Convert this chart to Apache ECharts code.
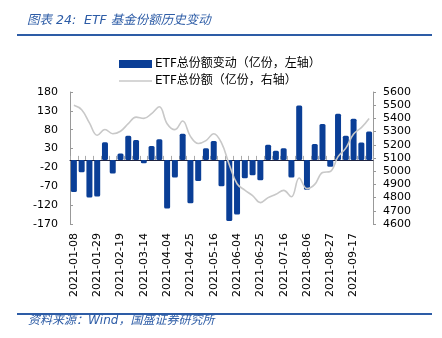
<!DOCTYPE html>
<html>
<head>
<meta charset="utf-8">
<script src="https://cdn.jsdelivr.net/npm/echarts@6/dist/echarts.min.js"></script>
<style>html,body{margin:0;padding:0;background:#fff;}#c{width:442px;height:338px;}</style>
</head>
<body>
<div id="c"></div>
<script>
var categories = ["2021-01-08","2021-01-15","2021-01-22","2021-01-29","2021-02-05","2021-02-10","2021-02-19","2021-02-26","2021-03-05","2021-03-14","2021-03-19","2021-03-26","2021-04-04","2021-04-09","2021-04-16","2021-04-25","2021-04-30","2021-05-07","2021-05-16","2021-05-21","2021-05-28","2021-06-04","2021-06-11","2021-06-18","2021-06-25","2021-07-02","2021-07-09","2021-07-16","2021-07-23","2021-07-30","2021-08-06","2021-08-13","2021-08-20","2021-08-27","2021-09-03","2021-09-10","2021-09-17","2021-09-24","2021-09-30"];
var shareChange = [-85,-33,-100,-97,47,-36,17,64,53,-9,37,55,-129,-47,69,-115,-56,31,50,-70,-162,-145,-49,-41,-54,40,24,31,-47,144,-79,42,95,-18,122,64,109,46,75];
var shareTotal = [5499,5466,5366,5272,5316,5284,5303,5360,5410,5400,5436,5488,5360,5315,5380,5264,5210,5232,5284,5214,5050,4905,4856,4815,4762,4800,4825,4855,4806,4948,4868,4900,4990,4998,5110,5175,5282,5330,5400];
var seriesNames = ["ETF总份额变动（亿份，左轴）","ETF总份额（亿份，右轴）"];
var titleText = "图表 24:  ETF 基金份额历史变动";
var sourceText = "资料来源：Wind，国盛证券研究所";

var FONT = '"DejaVu Sans", "Noto Sans CJK SC", sans-serif';
var chart = echarts.init(document.getElementById('c'), null, {renderer: 'canvas'});
chart.setOption({
  animation: false,
  backgroundColor: '#fff',
  grid: {left: 70, right: 69, top: 92, bottom: 114, containLabel: false},
  legend: {
    orient: 'vertical', left: 114, top: 53, itemGap: 5, itemWidth: 33, itemHeight: 8,
    textStyle: {fontFamily: FONT, fontSize: 12, color: '#000', padding: [0,0,0,-2]},
    data: [
      {name: seriesNames[0], icon: 'rect'},
      {name: seriesNames[1], icon: 'path://M0,0 L0,0 M0,3.2 L33,3.2 L33,4.8 L0,4.8 Z M33,8 L33,8', itemStyle: {color: '#c8c8c8'}}
    ]
  },
  xAxis: [{
    type: 'category', data: categories, position: 'bottom', boundaryGap: true,
    axisLine: {show: false, onZero: false}, axisTick: {show: false},
    axisLabel: {rotate: 90, interval: 2, margin: 9, fontSize: 11, color: '#000', fontFamily: FONT},
    splitLine: {show: false}
  }, {
    type: 'category', data: categories, position: 'bottom', boundaryGap: true,
    axisLine: {show: true, onZero: true, onZeroAxisIndex: 0, lineStyle: {color: '#1d2240', width: 1}},
    axisTick: {show: true, inside: true, length: 4, interval: 0, lineStyle: {color: '#aaa'}},
    axisLabel: {show: false}, splitLine: {show: false}
  }],
  yAxis: [{
    type: 'value', min: -170, max: 180, interval: 50, position: 'left',
    axisLine: {show: true, lineStyle: {color: '#999'}},
    axisTick: {show: true, inside: true, length: 3, lineStyle: {color: '#999'}},
    axisLabel: {fontSize: 11, color: '#000', margin: 12, fontFamily: FONT},
    splitLine: {show: false}
  }, {
    type: 'value', min: 4600, max: 5600, interval: 100, position: 'right',
    axisLine: {show: true, lineStyle: {color: '#999'}},
    axisTick: {show: true, inside: false, length: 3, lineStyle: {color: '#999'}},
    axisLabel: {fontSize: 11, color: '#000', margin: 10, fontFamily: FONT, formatter: function (v) { return String(v); }},
    splitLine: {show: false}
  }],
  series: [{
    name: seriesNames[0], type: 'bar', xAxisIndex: 0, yAxisIndex: 0,
    data: shareChange, barWidth: 6,
    itemStyle: {color: '#0a3e96', borderRadius: 1.5}
  }, {
    name: seriesNames[1], type: 'line', xAxisIndex: 0, yAxisIndex: 1,
    data: shareTotal, smooth: 0.4, symbol: 'none', z: 5,
    lineStyle: {color: '#c8c8c8', width: 1.6}, itemStyle: {color: '#c8c8c8'}
  }],
  graphic: [
    {type: 'text', left: 27, top: 14, style: {text: titleText, font: 'italic 12.5px ' + FONT, fill: '#2d5ca6'}},
    {type: 'rect', shape: {x: 17, y: 34, width: 415, height: 2}, style: {fill: '#2d5ca6'}},
    {type: 'rect', shape: {x: 17, y: 313, width: 415, height: 2}, style: {fill: '#2d5ca6'}},
    {type: 'text', left: 28, top: 315, style: {text: sourceText, font: 'italic 12px ' + FONT, fill: '#2d5ca6'}}
  ]
});
</script>
</body>
</html>
